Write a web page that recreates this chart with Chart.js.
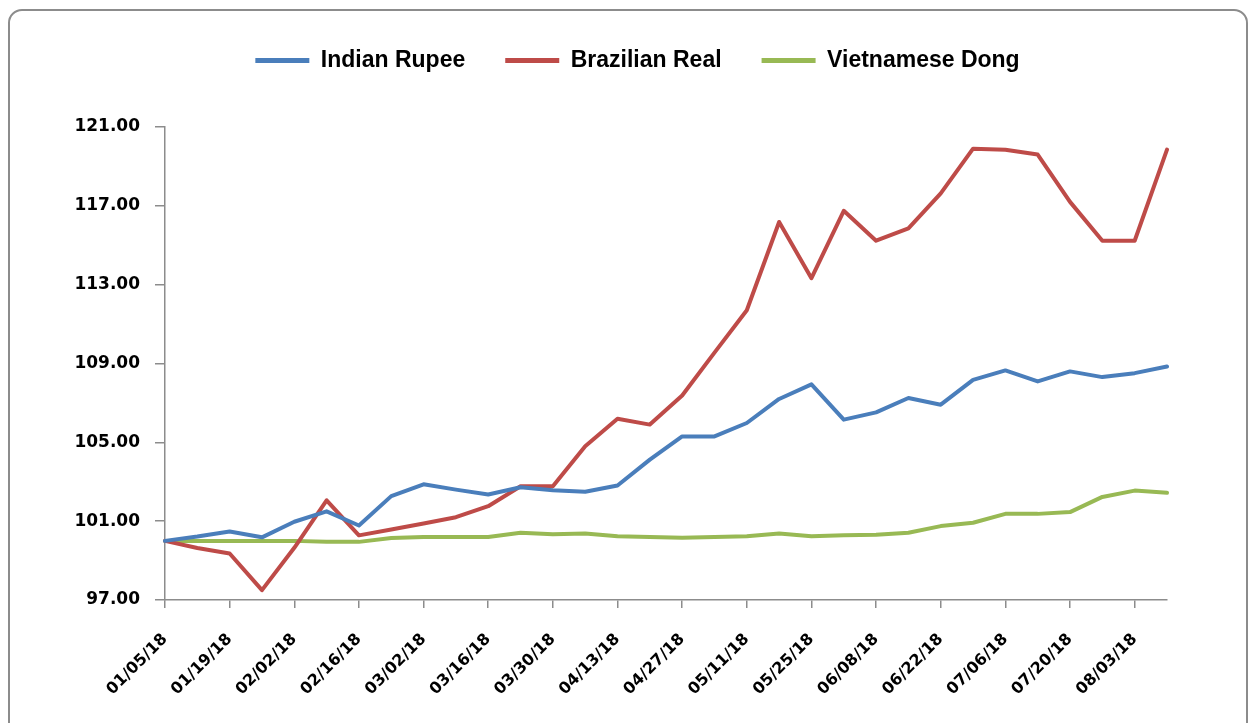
<!DOCTYPE html>
<html>
<head>
<meta charset="utf-8">
<script src="https://cdn.jsdelivr.net/npm/chart.js@4/dist/chart.umd.min.js"></script>
<style>
  html, body { margin: 0; padding: 0; background: #fff; }
  #wrap { position: relative; width: 1253px; height: 723px; overflow: hidden; }
  #frame { position: absolute; left: 8px; top: 9px; width: 1240px; height: 730px;
           border: 2px solid #8c8c8c; border-radius: 14px; box-sizing: border-box; }
  canvas { position: absolute; left: 0; top: 0; }
</style>
</head>
<body>
<div id="wrap">
  <div id="frame"></div>
  <canvas id="c" width="1253" height="723"></canvas>
</div>
<script>
// Weekly dates (Fridays), 01/05/18 .. 08/10/18
const dates = ["01/05/18","01/12/18","01/19/18","01/26/18","02/02/18","02/09/18","02/16/18","02/23/18",
  "03/02/18","03/09/18","03/16/18","03/23/18","03/30/18","04/06/18","04/13/18","04/20/18",
  "04/27/18","05/04/18","05/11/18","05/18/18","05/25/18","06/01/18","06/08/18","06/15/18",
  "06/22/18","06/29/18","07/06/18","07/13/18","07/20/18","07/27/18","08/03/18","08/10/18"];

const indianRupee = [100.0,100.22,100.48,100.18,100.97,101.5,100.78,102.27,
  102.87,102.6,102.35,102.72,102.57,102.49,102.81,104.12,
  105.3,105.3,105.98,107.2,107.94,106.15,106.52,107.25,
  106.91,108.17,108.65,108.09,108.6,108.31,108.51,108.85];

const brazilianReal = [100.0,99.64,99.36,97.5,99.65,102.06,100.28,100.58,
  100.88,101.2,101.76,102.77,102.77,104.8,106.2,105.9,
  107.38,109.55,111.7,116.18,113.33,116.75,115.23,115.86,
  117.63,119.9,119.85,119.6,117.2,115.23,115.23,119.85];

const vietnameseDong = [100.0,100.0,100.0,100.0,100.0,99.95,99.95,100.15,
  100.2,100.2,100.2,100.41,100.33,100.38,100.24,100.2,
  100.16,100.2,100.24,100.38,100.24,100.29,100.31,100.41,
  100.75,100.92,101.37,101.37,101.46,102.23,102.55,102.44];

const yMin = 97, yMax = 121, yStep = 4;

const COLORS = { rupee: "#4A7EBB", real: "#BE4B48", dong: "#98B954" };
const AXIS = "#8c8c8c";

let legendExtra = 20;
const legendShiftX = 54;

const legendTweaks = {
  id: "legendTweaks",
  beforeInit(chart) {
    const origFit = chart.legend.fit;
    chart.legend.fit = function () {
      origFit.bind(chart.legend)();
      this.height += legendExtra;
    };
  },
  afterLayout(chart) {
    const lg = chart.legend;
    if (lg) { lg.left += legendShiftX; lg.right += legendShiftX; }
  }
};

const tickFont = { family: "'DejaVu Sans'", size: 16, weight: "bold" };

const chart = new Chart(document.getElementById("c"), {
  type: "line",
  data: {
    labels: dates,
    datasets: [
      { label: "Indian Rupee", data: indianRupee, borderColor: COLORS.rupee, backgroundColor: COLORS.rupee },
      { label: "Brazilian Real", data: brazilianReal, borderColor: COLORS.real, backgroundColor: COLORS.real },
      { label: "Vietnamese Dong", data: vietnameseDong, borderColor: COLORS.dong, backgroundColor: COLORS.dong }
    ]
  },
  options: {
    responsive: false,
    animation: false,
    devicePixelRatio: 1,
    elements: {
      line: { borderWidth: 4, tension: 0, borderCapStyle: "round", borderJoinStyle: "round" },
      point: { radius: 0, hoverRadius: 0 }
    },
    layout: { padding: { top: 9, right: 86, bottom: 0, left: 0 } },
    plugins: {
      tooltip: { enabled: false },
      legend: {
        position: "top",
        align: "center",
        labels: {
          boxWidth: 54,
          boxHeight: 5,
          padding: 40,
          color: "#000",
          font: { family: "'Liberation Sans', Arial, sans-serif", size: 23, weight: "bold" },
          generateLabels(c) {
            return Chart.defaults.plugins.legend.labels.generateLabels(c)
              .map(l => Object.assign({}, l, { lineWidth: 0, fillStyle: l.strokeStyle }));
          }
        }
      }
    },
    scales: {
      x: {
        type: "category",
        offset: false,
        grid: {
          drawOnChartArea: false,
          drawTicks: true,
          tickLength: 8,
          lineWidth: 1.5,
          color: ctx => (ctx.index % 2 === 0 ? AXIS : "rgba(0,0,0,0)")
        },
        border: { display: true, color: AXIS, width: 1.5 },
        ticks: {
          autoSkip: false,
          maxRotation: 45,
          minRotation: 45,
          padding: 22,
          color: "#000",
          font: tickFont,
          callback: (v, i) => (i % 2 === 0 ? dates[i] : "")
        },
        afterFit(scale) { scale.height = 123; }
      },
      y: {
        min: yMin,
        max: yMax,
        grid: {
          drawOnChartArea: false,
          drawTicks: true,
          tickLength: 10,
          lineWidth: 1.5,
          color: AXIS
        },
        border: { display: true, color: AXIS, width: 1.5 },
        ticks: {
          stepSize: yStep,
          padding: 15,
          color: "#000",
          font: { family: "'DejaVu Sans'", size: 17, weight: "bold" },
          callback: v => Number(v).toFixed(2)
        },
        afterFit(scale) { scale.width = 165; }
      }
    }
  },
  plugins: [legendTweaks]
});

// align plot top edge with reference (y = 127)
const dTop = 127 - chart.chartArea.top;
if (Math.abs(dTop) > 0.5) {
  legendExtra += dTop;
  chart.update("none");
}
</script>
</body>
</html>
